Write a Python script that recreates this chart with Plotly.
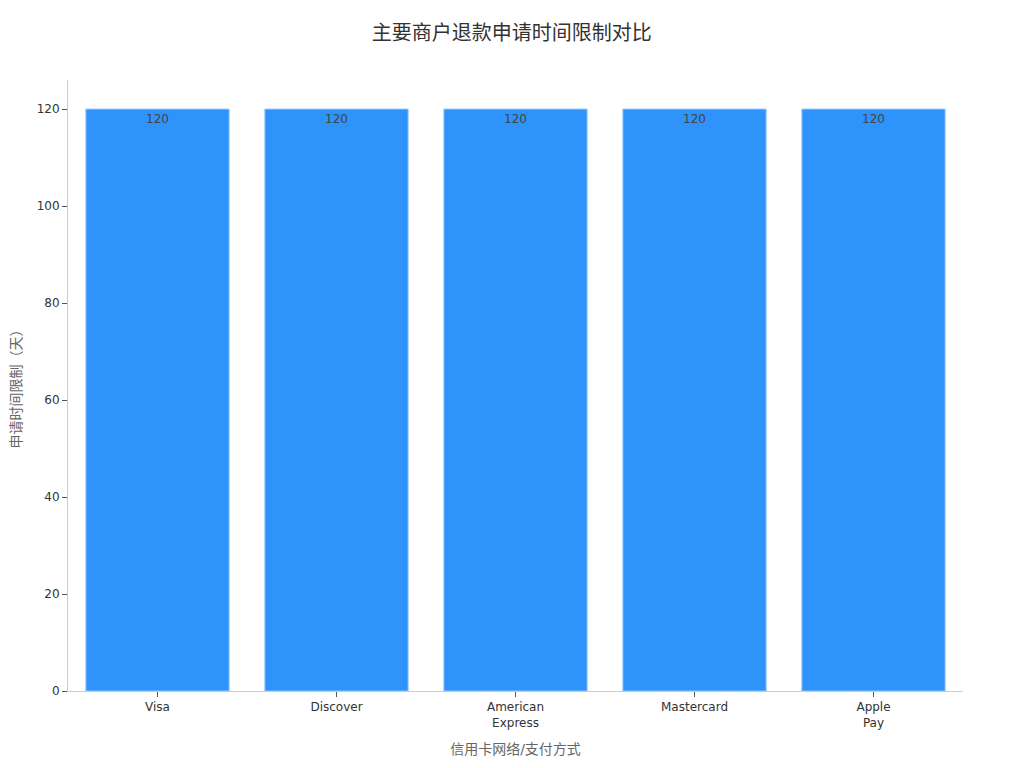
import plotly.graph_objects as go

networks = ["Visa", "Discover", "American<br>Express", "Mastercard", "Apple<br>Pay"]
days_limit = [120, 120, 120, 120, 120]

fig = go.Figure()
fig.add_trace(go.Bar(
    x=networks, y=days_limit,
    marker=dict(color="#2E93FA", line=dict(color="#8CC4FF", width=1)),
    text=days_limit, textposition="inside", insidetextanchor="end",
    textfont=dict(color="#444444", size=12),
    width=0.8,
))

# page has an 8px body margin, so margins are offset to match
fig.update_layout(
    title=dict(text="主要商户退款申请时间限制对比", x=0.492, xanchor="center", y=0.976,
               font=dict(size=20, color="#333333")),
    font=dict(family="DejaVu Sans, Noto Sans CJK SC", size=12, color="#333333"),
    plot_bgcolor="white", paper_bgcolor="white",
    width=1024, height=768,
    margin=dict(l=60, r=69, t=72, b=85),
    showlegend=False,
    xaxis=dict(title=dict(text="信用卡网络/支付方式", font=dict(size=14, color="#666666")),
               showline=True, linecolor="#cccccc", ticks="outside", ticklen=5,
               tickcolor="#555555", automargin=False),
    yaxis=dict(title=dict(text="申请时间限制（天）", font=dict(size=14, color="#666666"),
                          standoff=18),
               range=[0, 126], dtick=20, showgrid=False, zeroline=False,
               showline=True, linecolor="#cccccc", ticks="outside", ticklen=5,
               tickcolor="#555555", automargin=False),
)

fig.write_html("out.html")
